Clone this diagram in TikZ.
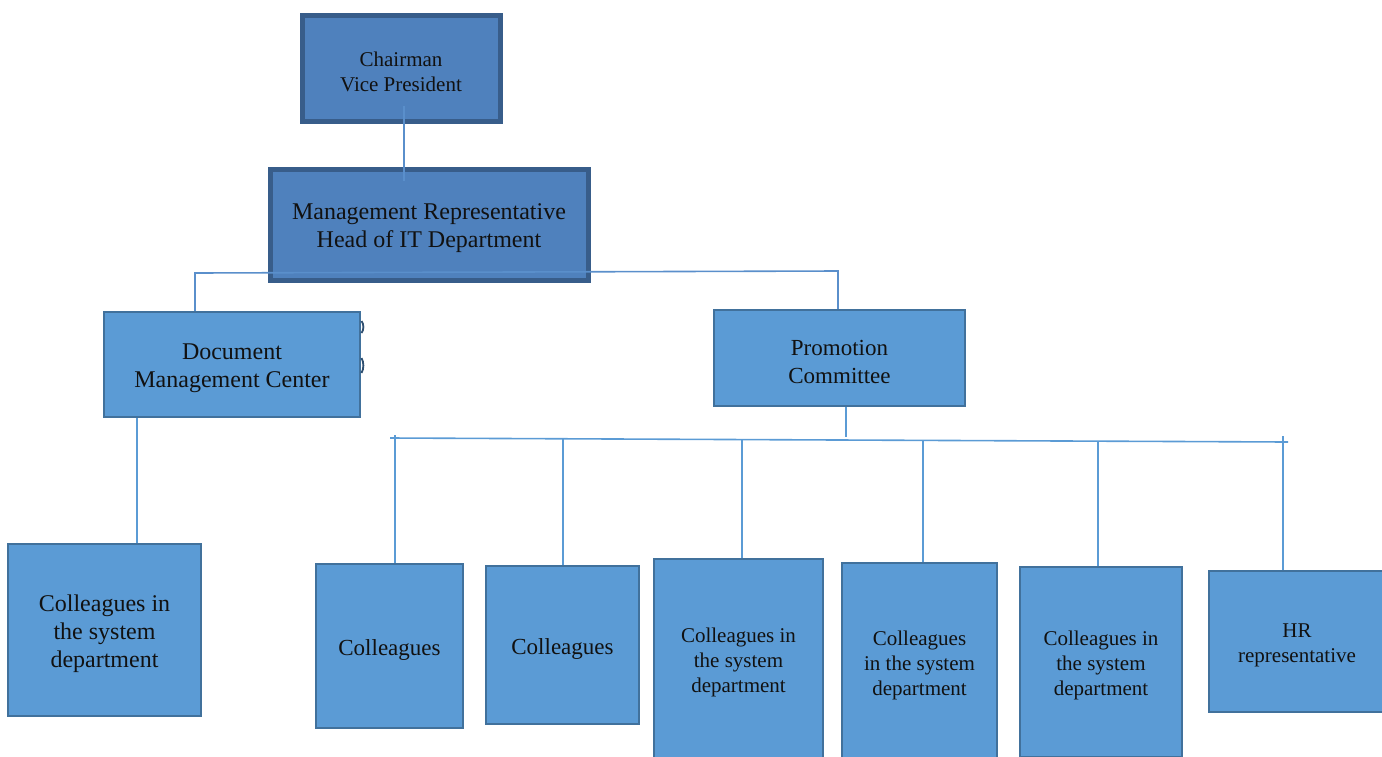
\documentclass[tikz,border=0pt]{standalone}
\usepackage{fontspec}
\setmainfont{Liberation Serif}
\definecolor{topfill}{HTML}{4F81BD}
\definecolor{topline}{HTML}{385D8A}
\definecolor{lowfill}{HTML}{5B9BD5}
\definecolor{lowline}{HTML}{41719C}
\definecolor{conncol}{HTML}{5B9BD5}
\definecolor{conndark}{HTML}{5A8FCB}
\definecolor{txt}{HTML}{111111}
\definecolor{bump}{HTML}{2F4F70}
\begin{document}
\begin{tikzpicture}[x=1pt,y=-1pt,
  topbox/.style={draw=topline,fill=topfill,line width=5pt,rectangle,inner sep=0pt},
  lowbox/.style={draw=lowline,fill=lowfill,line width=2.5pt,rectangle,inner sep=0pt},
  lbl/.style={align=center,text=txt,yshift=-3.5pt,inner sep=0pt},
  conn/.style={draw=conncol,line width=1.6pt},
  conn2/.style={draw=conndark,line width=1.6pt},
  fa/.style={font=\fontsize{24}{28}\selectfont},
  fb/.style={font=\fontsize{21}{25}\selectfont},
  fc/.style={font=\fontsize{23}{28}\selectfont}]
\useasboundingbox (0,0) rectangle (1382,756);
\clip (0,0) rectangle (1382,756);
% top boxes
\node[topbox,minimum width=198pt,minimum height=106pt,label={[lbl,fb]center:Chairman\\Vice President}] (chair) at (401,68) {};
\node[topbox,minimum width=318pt,minimum height=111pt,label={[lbl,fa]center:Management Representative\\Head of IT Department}] (mgmt) at (429,224.5) {};
% second level
\node[lowbox,minimum width=256pt,minimum height=105pt,label={[lbl,fa]center:Document\\Management Center}] (doc) at (232,364.5) {};
\node[lowbox,minimum width=251pt,minimum height=96pt,label={[lbl,fc]center:Promotion\\Committee}] (promo) at (839.5,358) {};
% bottom level
\node[lowbox,minimum width=193pt,minimum height=172pt,label={[lbl,fa]center:Colleagues in\\the system\\department}] (c0) at (104.5,630) {};
\node[lowbox,minimum width=147pt,minimum height=164pt,label={[lbl,fc]center:Colleagues}] (c1) at (389.5,646) {};
\node[lowbox,minimum width=153pt,minimum height=158pt,label={[lbl,fc]center:Colleagues}] (c2) at (562.5,645) {};
\node[lowbox,minimum width=169pt,minimum height=200pt,label={[lbl,fb]center:Colleagues in\\the system\\department}] (c3) at (738.5,659) {};
\node[lowbox,minimum width=155pt,minimum height=198pt,label={[lbl,fb]center:Colleagues\\in the system\\department}] (c4) at (919.5,662) {};
\node[lowbox,minimum width=162pt,minimum height=190pt,label={[lbl,fb]center:Colleagues in\\the system\\department}] (c5) at (1101,662) {};
\node[lowbox,minimum width=176pt,minimum height=141pt,label={[lbl,fb]center:HR\\representative}] (hr) at (1297,641.5) {};
% small marks at right edge of doc box
\draw[bump,line width=1.8pt] (361.5,321) .. controls (364,324) and (364,330) .. (361.5,333);
\draw[bump,line width=1.8pt] (361.5,358) .. controls (364,362) and (364,369) .. (361.5,373);
% connectors
\draw[conn2] ([xshift=3pt,yshift=18pt]chair.south) -- ([xshift=-25pt,yshift=-14pt]mgmt.north);
\coordinate (mL) at (195,273);
\coordinate (mR) at (838,271);
\draw[conn2] (doc.north -| mL) -- (mL) -- (mR) -- (promo.north -| mR);
\draw[conn] ([xshift=6.5pt]promo.south) -- ++(0,30);
\coordinate (bL) at (390,438);
\coordinate (bR) at (1288,442);
\draw[conn] (bL) -- (bR);
\coordinate (t1) at (395,435);
\coordinate (t2) at (563,438.8);
\coordinate (t3) at (742,439.6);
\coordinate (t4) at (923,440.4);
\coordinate (t5) at (1098,441.2);
\coordinate (t6) at (1283,436);
\draw[conn] (t1) -- (t1 |- c1.north);
\draw[conn] (t2) -- (t2 |- c2.north);
\draw[conn] (t3) -- (t3 |- c3.north);
\draw[conn] (t4) -- (t4 |- c4.north);
\draw[conn] (t5) -- (t5 |- c5.north);
\draw[conn] (t6) -- (t6 |- hr.north);
\draw[conn] ([xshift=-95pt]doc.south) -- ([xshift=32.5pt]c0.north);
\end{tikzpicture}
\end{document}
